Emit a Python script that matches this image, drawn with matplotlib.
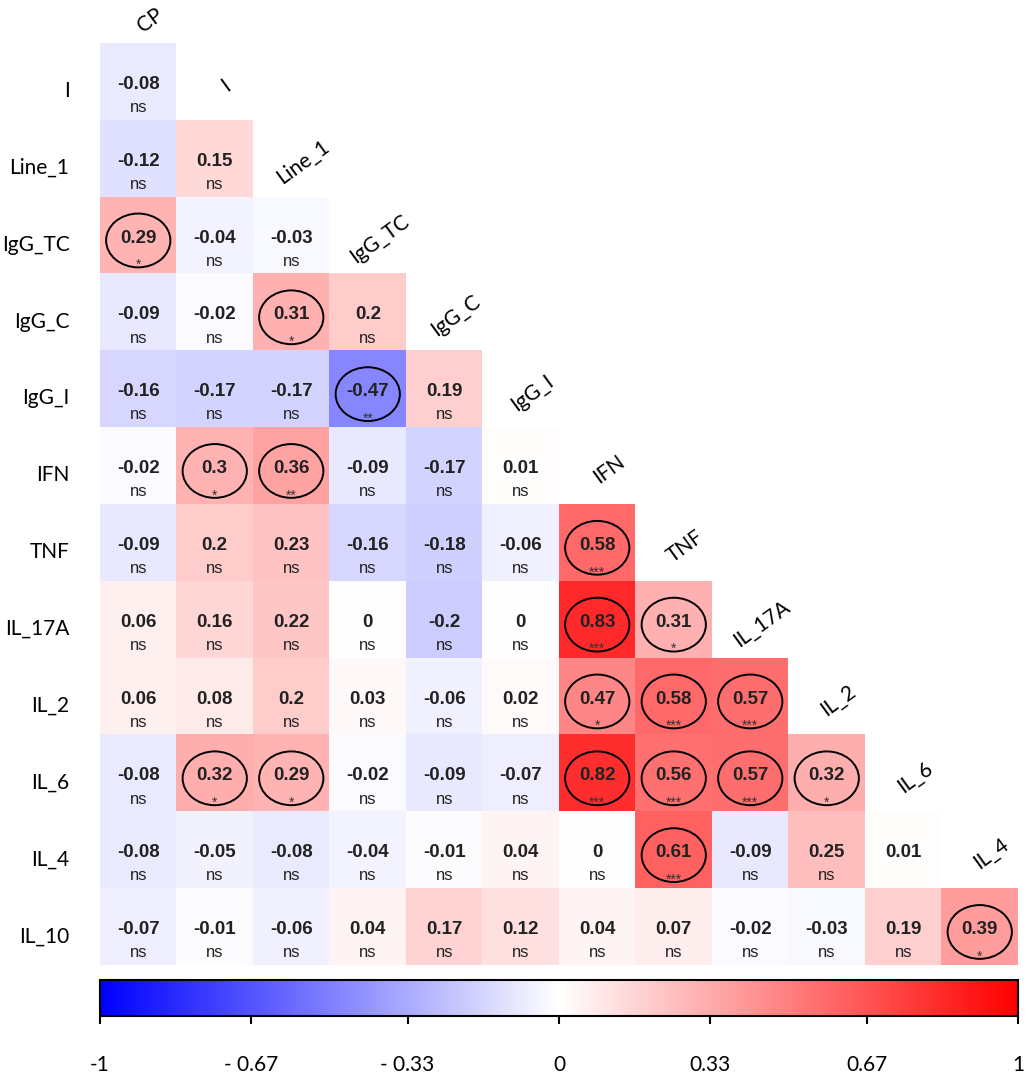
import matplotlib.pyplot as plt
import numpy as np
from matplotlib.colors import LinearSegmentedColormap
from matplotlib.patches import Ellipse

# variables (rows go from I to IL_10, columns from CP to IL_4)
row_names = ["I", "Line_1", "IgG_TC", "IgG_C", "IgG_I", "IFN", "TNF",
             "IL_17A", "IL_2", "IL_6", "IL_4", "IL_10"]
col_names = ["CP", "I", "Line_1", "IgG_TC", "IgG_C", "IgG_I", "IFN", "TNF",
             "IL_17A", "IL_2", "IL_6", "IL_4"]

# lower triangle of the correlation matrix, one list per row
r_I = [-0.08]
r_Line_1 = [-0.12, 0.15]
r_IgG_TC = [0.29, -0.04, -0.03]
r_IgG_C = [-0.09, -0.02, 0.31, 0.2]
r_IgG_I = [-0.16, -0.17, -0.17, -0.47, 0.19]
r_IFN = [-0.02, 0.3, 0.36, -0.09, -0.17, 0.01]
r_TNF = [-0.09, 0.2, 0.23, -0.16, -0.18, -0.06, 0.58]
r_IL_17A = [0.06, 0.16, 0.22, 0, -0.2, 0, 0.83, 0.31]
r_IL_2 = [0.06, 0.08, 0.2, 0.03, -0.06, 0.02, 0.47, 0.58, 0.57]
r_IL_6 = [-0.08, 0.32, 0.29, -0.02, -0.09, -0.07, 0.82, 0.56, 0.57, 0.32]
r_IL_4 = [-0.08, -0.05, -0.08, -0.04, -0.01, 0.04, 0, 0.61, -0.09, 0.25, 0.01]
r_IL_10 = [-0.07, -0.01, -0.06, 0.04, 0.17, 0.12, 0.04, 0.07, -0.02, -0.03,
           0.19, 0.39]

# significance marks
s_I = ["ns"]
s_Line_1 = ["ns", "ns"]
s_IgG_TC = ["*", "ns", "ns"]
s_IgG_C = ["ns", "ns", "*", "ns"]
s_IgG_I = ["ns", "ns", "ns", "**", "ns"]
s_IFN = ["ns", "*", "**", "ns", "ns", "ns"]
s_TNF = ["ns", "ns", "ns", "ns", "ns", "ns", "***"]
s_IL_17A = ["ns", "ns", "ns", "ns", "ns", "ns", "***", "*"]
s_IL_2 = ["ns", "ns", "ns", "ns", "ns", "ns", "*", "***", "***"]
s_IL_6 = ["ns", "*", "*", "ns", "ns", "ns", "***", "***", "***", "*"]
s_IL_4 = ["ns", "ns", "ns", "ns", "ns", "ns", "ns", "***", "ns", "ns", ""]
s_IL_10 = ["ns", "ns", "ns", "ns", "ns", "ns", "ns", "ns", "ns", "ns", "ns",
           "*"]

corr_rows = [r_I, r_Line_1, r_IgG_TC, r_IgG_C, r_IgG_I, r_IFN, r_TNF,
             r_IL_17A, r_IL_2, r_IL_6, r_IL_4, r_IL_10]
sig_rows = [s_I, s_Line_1, s_IgG_TC, s_IgG_C, s_IgG_I, s_IFN, s_TNF,
            s_IL_17A, s_IL_2, s_IL_6, s_IL_4, s_IL_10]

cbar_ticks = [-1, -0.67, -0.33, 0, 0.33, 0.67, 1]
cbar_labels = ["-1", "- 0.67", "- 0.33", "0", "0.33", "0.67", "1"]

n = len(row_names)
mat = np.full((n, n), np.nan)
for i, row in enumerate(corr_rows):
    mat[i, :len(row)] = row
mat = np.ma.masked_invalid(mat)

cmap = LinearSegmentedColormap.from_list("bwr_lin", ["#0000ff", "#ffffff", "#ff0000"])

label_font = ["Lato", "DejaVu Sans"]
cell_font = ["Liberation Sans", "DejaVu Sans"]

fig = plt.figure(figsize=(10.25, 10.73), dpi=100)
ax = fig.add_axes([100 / 1025, 1 - 965 / 1073, 918 / 1025, 922 / 1073])
im = ax.imshow(mat, cmap=cmap, vmin=-1, vmax=1, aspect="auto")
ax.set_xlim(-0.5, n - 0.5)
ax.set_ylim(n - 0.5, -0.5)
for s in ax.spines.values():
    s.set_visible(False)
ax.set_xticks([])
ax.set_yticks(np.arange(n) + 0.1)
ax.set_yticklabels(row_names, family=label_font, fontsize=15)
ax.tick_params(axis="y", length=0, pad=22)

# cell annotations
for i, (vals, sigs) in enumerate(zip(corr_rows, sig_rows)):
    for j, (v, sg) in enumerate(zip(vals, sigs)):
        ax.text(j, i + 0.04, f"{v:g}", ha="center", va="center", fontsize=13.5,
                fontweight="bold", family=cell_font, color="#222222")
        if sg in ("ns", ""):
            ax.text(j, i + 0.34, sg, ha="center", va="center", fontsize=12,
                    family=cell_font, color="#222222")
        else:
            ax.text(j, i + 0.39, sg, ha="center", va="center", fontsize=10,
                    family=cell_font, color="#333333")
            ax.add_patch(Ellipse((j, i + 0.07), 0.84, 0.7, fill=False,
                                 ec="black", lw=1.4))

# column names along the diagonal
for k, name in enumerate(col_names):
    y = max(k - 0.95, -0.8)
    ax.text(k + 0.15, y, name, ha="center", va="center", rotation=36,
            family=label_font, fontsize=15, clip_on=False)

# colour bar
cax = fig.add_axes([100 / 1025, 1 - 1016 / 1073, 918 / 1025, 36 / 1073])
cb = fig.colorbar(im, cax=cax, orientation="horizontal", ticks=cbar_ticks)
cb.outline.set_linewidth(1.5)
cb.ax.set_xticklabels(cbar_labels, family=label_font, fontsize=15)
cb.ax.tick_params(axis="x", length=6, width=1.5, pad=22)

fig.savefig("out.png", dpi=100)
